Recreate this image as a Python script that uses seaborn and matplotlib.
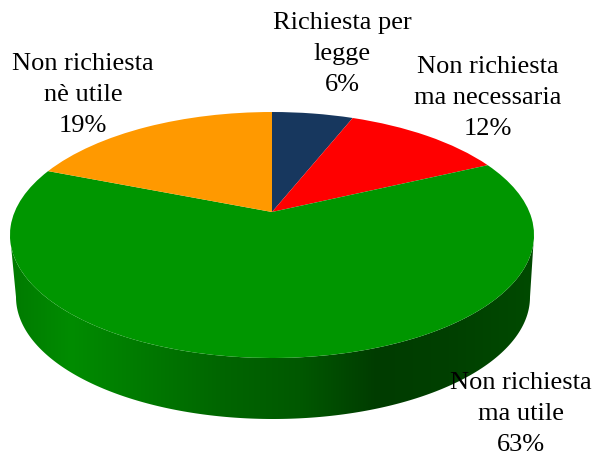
import numpy as np
import seaborn as sns
import matplotlib.pyplot as plt
from matplotlib.colors import LinearSegmentedColormap
from matplotlib.patches import PathPatch
from matplotlib.path import Path
from matplotlib.transforms import Transform

# Data
labels = ['Richiesta per\nlegge\n6%', 'Non richiesta\nma necessaria\n12%',
          'Non richiesta\nma utile\n63%', 'Non richiesta\nnè utile\n19%']
values = [6, 12, 63, 19]
colors = ['#17375E', '#FF0000', '#009600', '#FF9900']

sns.set_theme(style='white')
plt.rcParams['font.family'] = ['Liberation Serif', 'DejaVu Serif']

W, H = 596, 455
fig = plt.figure(figsize=(W / 100, H / 100), dpi=100)
ax = fig.add_axes([0, 0, 1, 1])


# tilts a unit pie: far side gets squeezed, apex sits above the ellipse centre
class Tilt(Transform):
    input_dims = output_dims = 2

    def transform_non_affine(self, xy):
        u, v = xy[:, 0], xy[:, 1]
        w = 1 + 0.187 * v
        return np.c_[272 + 257.4 * u / w, 212 - 118.7 * v / w]


wedges, _ = ax.pie(values, colors=colors, startangle=90, counterclock=False,
                   wedgeprops=dict(linewidth=0))
tilt = Tilt() + ax.transData
for w in wedges:
    w.set_transform(tilt)
    w.set_zorder(2)

ax.set_aspect('auto')
ax.set_xlim(0, W)
ax.set_ylim(H, 0)
ax.axis('off')

# side of the cylinder, shaded from left to right
t = np.linspace(0, np.pi, 200)
top = np.c_[272 + 262 * np.cos(t), 235 + 123 * np.sin(t)]
bottom = np.c_[273 + 257 * np.cos(t[::-1]), 297 + 122 * np.sin(t[::-1])]
verts = np.vstack([top, bottom, top[:1]])
codes = [Path.MOVETO] + [Path.LINETO] * (len(verts) - 2) + [Path.CLOSEPOLY]
side = PathPatch(Path(verts, codes), facecolor='none', edgecolor='none')
ax.add_patch(side)

stops = [(0, '#007A00'), (0.115, '#008C00'), (0.25, '#007A00'), (0.40, '#006600'),
         (0.555, '#005800'), (0.70, '#003C00'), (0.84, '#004000'), (1, '#004A00')]
cmap = LinearSegmentedColormap.from_list('side', stops)
im = ax.imshow(np.linspace(0, 1, 256)[None, :], cmap=cmap, aspect='auto',
               extent=[10, 534, 420, 230], zorder=1)
im.set_clip_path(side)
ax.set_xlim(0, W)
ax.set_ylim(H, 0)

label_pos = [(342, 54), (488, 98), (521, 414), (83, 95)]
for lab, (x, y) in zip(labels, label_pos):
    ax.text(x, y, lab, ha='center', va='center', fontsize=19, color='black',
            linespacing=1.55, zorder=5)

fig.savefig('out.png', dpi=100)
